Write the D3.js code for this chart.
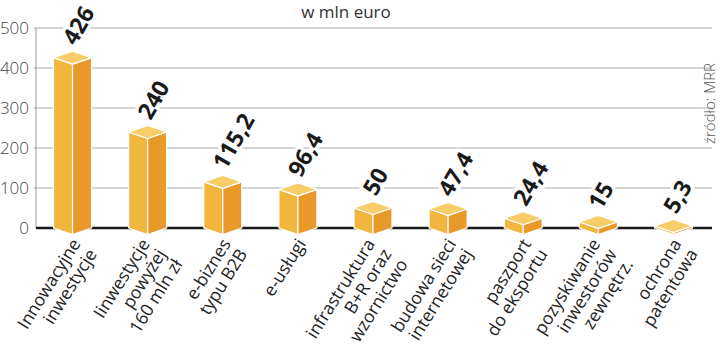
<!DOCTYPE html>
<html>
<head>
<meta charset="utf-8">
<script src="https://cdn.jsdelivr.net/npm/d3@7"></script>
<style>
  body { margin: 0; background: #fff; }
  svg { display: block; font-family: "Open Sans", "Noto Sans", sans-serif; }
</style>
</head>
<body>
<div id="chart"></div>
<script>
// data
var categories = [
    ["Innowacyjne", "inwestycje"],
    ["Iinwestycje", "powyżej", "160 mln zł"],
    ["e-biznes", "typu B2B"],
    ["e-usługi"],
    ["infrastruktura", "B+R oraz", "wzornictwo"],
    ["budowa sieci", "internetowej"],
    ["paszport", "do eksportu"],
    ["pozyskiwanie", "inwestorów", "zewnętrz."],
    ["ochrona", "patentowa"]
];
var values = [426, 240, 115.2, 96.4, 50, 47.4, 24.4, 15, 5.3];
var valueLabels = ["426", "240", "115,2", "96,4", "50", "47,4", "24,4", "15", "5,3"];
var yTicks = [0, 100, 200, 300, 400, 500];
var title = "w mln euro";
var source = "źródło: MRR";

var width = 720, height = 364;
var svg = d3.select('#chart').append('svg').attr('width', width).attr('height', height);

var x = d3.scaleBand().domain(d3.range(values.length)).range([35, 711]).padding(0);
var y = d3.scaleLinear().domain([0, 500]).range([228, 28]);

var halfW = 19, halfH = 6.5;
var catAngle = -58, valAngle = -60;

// grid
svg.append('g').selectAll('line').data(yTicks.slice(1)).enter().append('line')
    .attr('x1', 34).attr('x2', 712)
    .attr('y1', function(d){ return y(d); }).attr('y2', function(d){ return y(d); })
    .attr('stroke', '#aaa').attr('stroke-width', 1);

svg.append('line').attr('x1', 36).attr('x2', 36).attr('y1', y(500)).attr('y2', y(0))
    .attr('stroke', '#999').attr('stroke-width', 1);

svg.append('g').selectAll('text').data(yTicks).enter().append('text')
    .attr('x', 29).attr('y', function(d){ return y(d); })
    .attr('dy', '0.36em').attr('text-anchor', 'end')
    .attr('font-size', 17).attr('font-weight', 300).attr('fill', '#444')
    .text(function(d){ return d; });

svg.append('line').attr('x1', 36).attr('x2', 712).attr('y1', y(0)).attr('y2', y(0))
    .attr('stroke', '#1a1a1a').attr('stroke-width', 2.5);

// 3d bars
var bars = svg.append('g').selectAll('g').data(values).enter().append('g');
function cx(i){ return x(i) + x.bandwidth() / 2; }

bars.append('path')
    .attr('d', function(d, i){
        var c = cx(i), t = y(d), b = y(0);
        return 'M' + (c - halfW) + ',' + t + 'L' + c + ',' + (t + halfH) + 'L' + c + ',' + (b + halfH) + 'L' + (c - halfW) + ',' + b + 'Z';
    })
    .attr('fill', '#f2b53d').attr('stroke', '#fff').attr('stroke-width', 1.2).attr('stroke-linejoin', 'round');
bars.append('path')
    .attr('d', function(d, i){
        var c = cx(i), t = y(d), b = y(0);
        return 'M' + (c + halfW) + ',' + t + 'L' + c + ',' + (t + halfH) + 'L' + c + ',' + (b + halfH) + 'L' + (c + halfW) + ',' + b + 'Z';
    })
    .attr('fill', '#e8992a').attr('stroke', '#fff').attr('stroke-width', 1.2).attr('stroke-linejoin', 'round');
bars.append('path')
    .attr('d', function(d, i){
        var c = cx(i), t = y(d);
        return 'M' + (c - halfW) + ',' + t + 'L' + c + ',' + (t - halfH) + 'L' + (c + halfW) + ',' + t + 'L' + c + ',' + (t + halfH) + 'Z';
    })
    .attr('fill', '#f8cd68').attr('stroke', '#fff').attr('stroke-width', 1.2).attr('stroke-linejoin', 'round');

// value labels
svg.append('g').selectAll('text').data(values).enter().append('text')
    .attr('transform', function(d, i){
        return 'translate(' + (cx(i) + 3) + ',' + (y(d) - 11) + ') rotate(' + valAngle + ')';
    })
    .attr('font-size', 23).attr('font-weight', 700).attr('fill', '#1a1a1a')
    .attr('stroke', '#fff').attr('stroke-width', 7).attr('paint-order', 'stroke').attr('stroke-linejoin', 'round')
    .text(function(d, i){ return valueLabels[i]; });

// category labels
var cats = svg.append('g').selectAll('text').data(categories).enter().append('text')
    .attr('transform', function(d, i){
        var dx = d.length > 2 ? -8 : -2;
        return 'translate(' + (cx(i) + dx) + ',237) rotate(' + catAngle + ')';
    })
    .attr('text-anchor', 'end').attr('font-size', 17.5).attr('fill', '#222');
cats.selectAll('tspan').data(function(d){ return d; }).enter().append('tspan')
    .attr('x', 0).attr('dy', function(d, j){ return j === 0 ? '0.72em' : '1.1em'; })
    .text(function(d){ return d; });

// title and source
svg.append('text').attr('x', 346).attr('y', 18).attr('text-anchor', 'middle')
    .attr('font-size', 17).attr('fill', '#333').text(title);

svg.append('text').attr('transform', 'translate(715,63) rotate(-90)')
    .attr('text-anchor', 'end').attr('font-size', 15).attr('font-weight', 300).attr('fill', '#555')
    .text(source);
</script>
</body>
</html>
